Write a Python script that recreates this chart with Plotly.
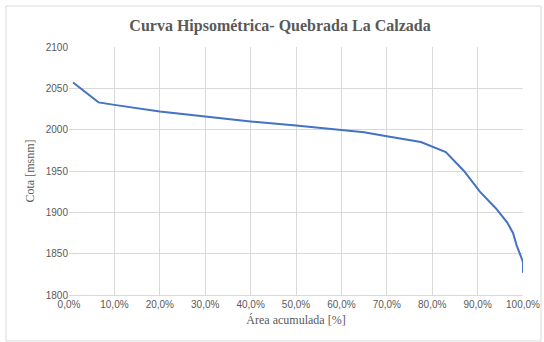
import plotly.graph_objects as go

# Curva hipsométrica: área acumulada (%) vs cota (msnm)
area_acumulada = [0.9, 6.5, 10, 20, 30, 40, 50, 60, 65, 70, 77.5, 83, 87, 90.5, 94, 96.5, 97.8, 98.6, 99.6, 100, 100]
cota = [2057, 2033, 2030, 2022, 2016, 2010, 2005, 2000, 1997, 1992, 1985, 1973, 1950, 1925, 1905, 1888, 1875, 1860, 1847, 1840, 1827]

x_ticks = [0, 10, 20, 30, 40, 50, 60, 70, 80, 90, 100]
x_tick_labels = ["0,0%", "10,0%", "20,0%", "30,0%", "40,0%", "50,0%",
                 "60,0%", "70,0%", "80,0%", "90,0%", "100,0%"]
y_ticks = [1800, 1850, 1900, 1950, 2000, 2050, 2100]

W, H = 544, 342
L, R, T, B = 69, 21, 47, 47
pw, ph = W - L - R, H - T - B


def px(x):
    return (x - L) / pw


def py(y):
    return (H - B - y) / ph


fig = go.Figure()
fig.add_trace(go.Scatter(
    x=area_acumulada, y=cota, mode="lines",
    line=dict(color="#4472C4", width=2),
    showlegend=False, hoverinfo="skip", cliponaxis=False,
))

gray = "#595959"
fig.update_layout(
    width=W, height=H,
    margin=dict(l=L, r=R, t=T, b=B, autoexpand=False),
    paper_bgcolor="white", plot_bgcolor="white",
    title=dict(
        text="<b>Curva Hipsométrica- Quebrada La Calzada</b>",
        x=280 / W, xanchor="center", y=1 - 25 / H, yanchor="middle",
        font=dict(family="Liberation Serif", size=16, color=gray),
    ),
    xaxis=dict(
        range=[0, 100], tickvals=x_ticks, ticktext=x_tick_labels,
        automargin=False,
        showgrid=True, gridcolor="#d9d9d9", gridwidth=1,
        zeroline=False, showline=True, linecolor="#d9d9d9",
        ticks="", tickfont=dict(family="Liberation Sans", size=10, color=gray),
        title=dict(text="Área acumulada [%]", standoff=6,
                   font=dict(family="Liberation Serif", size=12, color=gray)),
    ),
    yaxis=dict(
        range=[1800, 2100], tickvals=y_ticks,
        automargin=False,
        showgrid=True, gridcolor="#d9d9d9", gridwidth=1,
        zeroline=False, showline=False,
        ticks="", tickfont=dict(family="Liberation Sans", size=10, color=gray),
        title=dict(text="Cota [msnm]", standoff=8,
                   font=dict(family="Liberation Serif", size=12, color=gray)),
    ),
    shapes=[dict(
        type="rect", xref="paper", yref="paper",
        x0=px(6), x1=px(541), y0=py(341), y1=py(6),
        line=dict(color="#d9d9d9", width=1), fillcolor="rgba(0,0,0,0)", layer="below",
    )],
)

fig.write_html("out.html")
